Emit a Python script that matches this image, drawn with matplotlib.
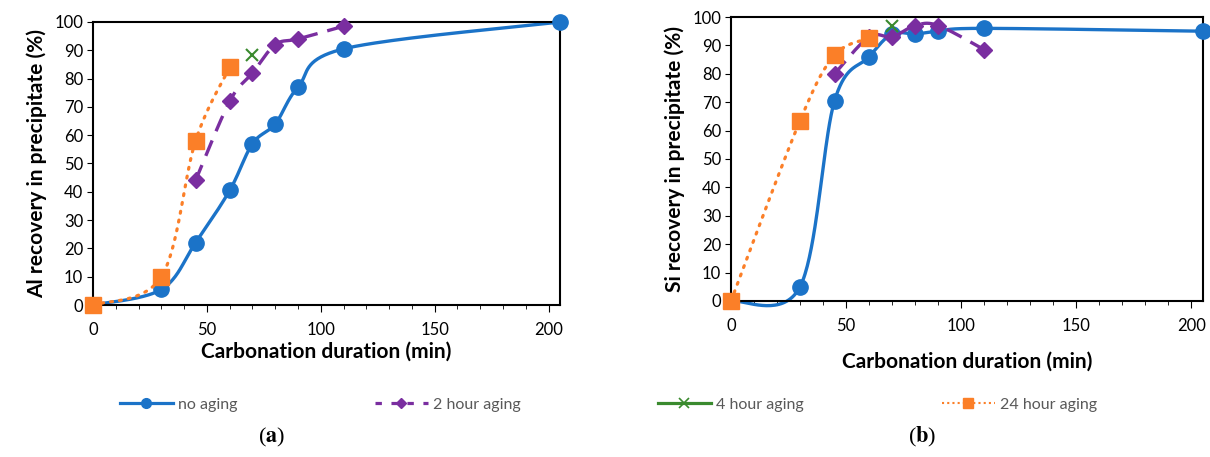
import numpy as np
import matplotlib.pyplot as plt
from matplotlib.ticker import MultipleLocator

plt.rcParams['font.family'] = ['Lato', 'DejaVu Sans']
plt.rcParams['mathtext.fontset'] = 'stix'

# panel (a): Al recovery
a_no_x = [0, 30, 45, 60, 70, 80, 90, 110, 205]
a_no_y = [0, 5.5, 22, 40.5, 57, 64, 77, 90.5, 100]
a_2h_x = [45, 60, 70, 80, 90, 110]
a_2h_y = [44, 72, 82, 92, 94, 98.5]
a_4h_x = [70]
a_4h_y = [88.5]
a_24h_x = [0, 30, 45, 60]
a_24h_y = [0, 10, 58, 84]

# panel (b): Si recovery
b_no_x = [0, 30, 45, 60, 70, 80, 90, 110, 205]
b_no_y = [0, 5, 70.5, 86, 94, 94, 95, 96, 95]
b_2h_x = [45, 60, 70, 80, 90, 110]
b_2h_y = [80, 93, 93, 97, 97, 88.5]
b_4h_x = [70]
b_4h_y = [97]
b_24h_x = [0, 30, 45, 60]
b_24h_y = [0, 63.5, 86.5, 92.5]

labels = ['no aging', '2 hour aging', '4 hour aging', '24 hour aging']
c_blue = '#1b73c8'
c_purple = '#7a2ea0'
c_green = '#3a8a2e'
c_orange = '#fb7f28'


def smooth(x, y, sx, sy, n=40):
    # excel-like smoothed line (catmull-rom bezier in screen space)
    p = np.column_stack([np.array(x, float) * sx, np.array(y, float) * sy])
    if len(p) < 3:
        return np.array(x, float), np.array(y, float)
    pts = np.vstack([p[0], p, p[-1]])
    out = []
    t = np.linspace(0, 1, n)[:, None]
    for i in range(1, len(pts) - 2):
        p0, p1, p2, p3 = pts[i - 1], pts[i], pts[i + 1], pts[i + 2]
        b1 = p1 + (p2 - p0) / 6
        b2 = p2 - (p3 - p1) / 6
        seg = ((1 - t) ** 3) * p1 + 3 * ((1 - t) ** 2) * t * b1 + 3 * (1 - t) * t ** 2 * b2 + t ** 3 * p2
        out.append(seg)
    out = np.vstack(out)
    return out[:, 0] / sx, out[:, 1] / sy


fig = plt.figure(figsize=(12.1, 4.57), dpi=100)
ax1 = fig.add_axes([0.0769, 0.3326, 0.3859, 0.6193])
ax2 = fig.add_axes([0.6041, 0.3414, 0.3900, 0.6214])


def draw(ax, series, ylabel):
    bb = ax.get_position()
    sx = bb.width * 12.1 / 205.0
    sy = bb.height * 4.57 / 100.0
    (nx, ny), (tx, ty), (fx, fy), (ox, oy) = series
    hs = []
    lx, ly = smooth(nx, ny, sx, sy)
    ax.plot(lx, ly, color=c_blue, lw=2.4, zorder=2, clip_on=False)
    ax.plot(nx, ny, 'o', color=c_blue, ms=11, zorder=3, clip_on=False)
    hs.append(ax.plot([], [], '-o', color=c_blue, lw=2.3, ms=7)[0])
    lx, ly = smooth(tx, ty, sx, sy)
    ax.plot(lx, ly, color=c_purple, lw=2.4, dashes=(5, 3), zorder=4, clip_on=False)
    ax.plot(tx, ty, 'D', color=c_purple, ms=8, zorder=5, clip_on=False)
    hs.append(ax.plot([], [], color=c_purple, lw=2.3, dashes=(2, 3), marker='D', ms=5)[0])
    ax.plot(fx, fy, 'x', color=c_green, ms=9, mew=1.5, zorder=6, clip_on=False)
    hs.append(ax.plot([], [], '-x', color=c_green, lw=2.3, ms=7, mew=1.2)[0])
    lx, ly = smooth(ox, oy, sx, sy)
    ax.plot(lx, ly, color=c_orange, lw=2.3, dashes=(0.6, 2.2), dash_capstyle='round', zorder=7, clip_on=False)
    ax.plot(ox, oy, 's', color=c_orange, ms=11, zorder=8, clip_on=False)
    hs.append(ax.plot([], [], color=c_orange, lw=1.5, dashes=(1, 1.5), marker='s', ms=7)[0])

    ax.set_xlim(0, 205)
    ax.set_ylim(0, 100)
    ax.xaxis.set_major_locator(MultipleLocator(50))
    ax.xaxis.set_minor_locator(MultipleLocator(10))
    ax.yaxis.set_major_locator(MultipleLocator(10))
    ax.tick_params(axis='both', which='both', direction='out', labelsize=12, colors='black')
    ax.tick_params(axis='x', which='major', length=5, pad=7)
    ax.tick_params(axis='x', which='minor', length=3)
    ax.tick_params(axis='y', which='major', length=4, pad=3)
    for s in ax.spines.values():
        s.set_linewidth(1.5)
    ax.set_xlabel('Carbonation duration (min)', fontsize=15, fontweight='bold', labelpad=3)
    ax.set_ylabel(ylabel, fontsize=15, fontweight='bold', labelpad=5)
    return hs


hs = draw(ax1, [(a_no_x, a_no_y), (a_2h_x, a_2h_y), (a_4h_x, a_4h_y), (a_24h_x, a_24h_y)],
          'Al recovery in precipitate (%)')
draw(ax2, [(b_no_x, b_no_y), (b_2h_x, b_2h_y), (b_4h_x, b_4h_y), (b_24h_x, b_24h_y)],
     'Si recovery in precipitate (%)')
ax2.xaxis.labelpad = 13

# legend entries placed like the excel legend
leg_x = [120, 375, 658, 942]
for h, lab, px in zip(hs, labels, leg_x):
    leg = fig.legend([h], [lab], loc='center left', bbox_to_anchor=(px / 1210.0, 0.114),
                     frameon=False, fontsize=11.5, handlelength=3.3, handletextpad=0.35,
                     borderpad=0, borderaxespad=0)
    for t in leg.get_texts():
        t.set_color('#595959')

fig.text(0.2248, 0.043, r'($\mathbf{a}$)', fontsize=16, family='Liberation Serif', ha='center', va='center')
fig.text(0.7620, 0.043, r'($\mathbf{b}$)', fontsize=16, family='Liberation Serif', ha='center', va='center')

fig.savefig('out.png', dpi=100)
